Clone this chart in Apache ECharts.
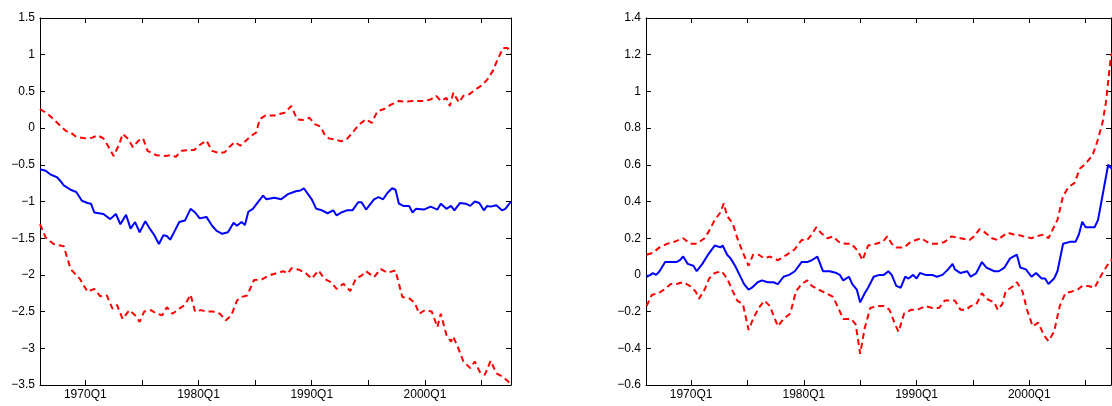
<!DOCTYPE html>
<html><head><meta charset="utf-8">
<script src="https://cdn.jsdelivr.net/npm/echarts@6/dist/echarts.min.js"></script>
<style>html,body{margin:0;padding:0;background:#fff}#c{width:1112px;height:406px}</style>
</head><body><div id="c"></div>
<script>
const tickYears = [1970,1975,1980,1985,1990,1995,2000,2005];
const labelYears = [1970,1980,1990,2000];
const xMin = 1966, xMaxL = 2007.6, xMaxR = 2007.25;

const L_mid_x = [1966.0,1966.5,1966.9,1967.5,1967.8,1968.1,1968.7,1969.2,1969.7,1970.2,1970.5,1970.8,1971.6,1972.2,1972.7,1973.1,1973.6,1974.0,1974.4,1974.8,1975.3,1975.7,1976.1,1976.5,1976.9,1977.2,1977.5,1977.9,1978.3,1978.8,1979.3,1979.7,1980.1,1980.7,1981.2,1981.6,1982.1,1982.6,1983.1,1983.4,1983.8,1984.1,1984.4,1984.8,1985.2,1985.7,1986.0,1986.7,1987.3,1987.9,1988.6,1989.0,1989.3,1990.0,1990.4,1990.9,1991.4,1991.9,1992.2,1992.6,1993.1,1993.6,1994.1,1994.4,1994.8,1995.5,1995.9,1996.3,1996.7,1997.1,1997.4,1997.7,1998.1,1998.6,1998.9,1999.2,1999.9,2000.5,2001.1,2001.4,2001.9,2002.3,2002.6,2003.1,2003.6,2004.0,2004.4,2004.8,2005.2,2005.5,2005.8,2006.3,2006.8,2007.1,2007.6];
const L_mid_y = [-0.56,-0.58,-0.63,-0.67,-0.72,-0.78,-0.84,-0.87,-0.99,-1.02,-1.03,-1.15,-1.17,-1.24,-1.17,-1.31,-1.18,-1.37,-1.28,-1.42,-1.27,-1.37,-1.46,-1.58,-1.46,-1.47,-1.52,-1.40,-1.28,-1.26,-1.10,-1.15,-1.23,-1.21,-1.33,-1.40,-1.44,-1.42,-1.29,-1.33,-1.28,-1.32,-1.14,-1.10,-1.02,-0.92,-0.97,-0.95,-0.97,-0.90,-0.86,-0.85,-0.82,-0.97,-1.10,-1.12,-1.16,-1.12,-1.19,-1.15,-1.12,-1.12,-1.01,-1.01,-1.11,-0.97,-0.94,-0.97,-0.88,-0.82,-0.84,-1.03,-1.06,-1.06,-1.15,-1.10,-1.11,-1.07,-1.11,-1.03,-1.10,-1.06,-1.12,-1.02,-1.03,-1.06,-1.00,-1.02,-1.12,-1.06,-1.07,-1.05,-1.12,-1.10,-1.00];

const L_up_x = [1966.0,1966.7,1967.2,1967.8,1968.3,1968.7,1969.2,1970.0,1970.6,1971.1,1971.6,1972.0,1972.5,1973.0,1973.3,1973.8,1974.2,1974.7,1975.1,1975.5,1976.3,1977.1,1977.5,1978.0,1978.5,1979.1,1979.6,1980.2,1980.7,1981.2,1981.8,1982.3,1982.7,1983.2,1983.7,1984.2,1984.6,1985.1,1985.4,1985.9,1986.7,1987.1,1987.6,1988.2,1988.7,1989.2,1989.8,1990.3,1990.8,1991.1,1991.5,1992.2,1992.6,1993.1,1993.6,1994.2,1994.8,1995.3,1995.8,1996.4,1997.0,1997.7,1998.3,1998.9,1999.5,2000.0,2000.5,2001.0,2001.4,2001.9,2002.2,2002.5,2003.0,2003.4,2003.9,2004.5,2005.0,2005.5,2006.0,2006.4,2006.9,2007.3,2007.6];
const L_up_y = [0.26,0.19,0.12,0.03,-0.04,-0.06,-0.12,-0.14,-0.13,-0.10,-0.14,-0.24,-0.38,-0.22,-0.08,-0.15,-0.26,-0.17,-0.14,-0.31,-0.37,-0.38,-0.37,-0.39,-0.31,-0.30,-0.30,-0.22,-0.17,-0.31,-0.34,-0.33,-0.26,-0.19,-0.24,-0.17,-0.11,-0.06,0.12,0.17,0.17,0.19,0.21,0.30,0.12,0.11,0.14,0.05,0.02,-0.08,-0.14,-0.16,-0.18,-0.15,-0.06,0.05,0.12,0.07,0.23,0.26,0.32,0.37,0.36,0.37,0.37,0.37,0.39,0.44,0.37,0.41,0.30,0.48,0.35,0.44,0.46,0.53,0.58,0.66,0.78,0.93,1.09,1.09,1.02];

const L_lo_x = [1966.0,1966.5,1967.2,1968.1,1968.7,1969.5,1970.2,1970.8,1971.3,1971.9,1972.4,1972.8,1973.3,1973.9,1974.4,1974.8,1975.2,1975.8,1976.3,1976.8,1977.2,1977.7,1978.3,1978.8,1979.3,1979.7,1980.2,1980.7,1981.3,1981.9,1982.4,1982.9,1983.4,1983.8,1984.3,1984.9,1985.6,1986.2,1986.8,1987.5,1987.9,1988.2,1988.9,1989.5,1990.0,1990.6,1991.1,1991.7,1992.2,1992.8,1993.4,1993.9,1994.4,1994.8,1995.5,1996.1,1996.7,1997.4,1998.0,1998.6,1999.1,1999.5,2000.0,2000.6,2001.1,2001.4,2001.9,2002.3,2002.5,2003.0,2003.4,2004.0,2004.4,2004.9,2005.3,2005.8,2006.3,2006.9,2007.4,2007.6];
const L_lo_y = [-1.31,-1.49,-1.58,-1.61,-1.92,-2.05,-2.23,-2.19,-2.29,-2.28,-2.46,-2.41,-2.60,-2.48,-2.55,-2.64,-2.50,-2.48,-2.53,-2.55,-2.44,-2.53,-2.46,-2.41,-2.27,-2.50,-2.48,-2.50,-2.50,-2.53,-2.62,-2.55,-2.35,-2.30,-2.28,-2.07,-2.06,-2.01,-1.98,-1.95,-1.98,-1.91,-1.93,-1.98,-2.05,-1.94,-2.05,-2.10,-2.19,-2.12,-2.22,-2.05,-2.01,-1.95,-2.03,-1.92,-1.97,-1.94,-2.30,-2.32,-2.38,-2.53,-2.48,-2.50,-2.71,-2.53,-2.82,-2.91,-2.84,-3.02,-3.18,-3.27,-3.18,-3.34,-3.36,-3.17,-3.34,-3.39,-3.46,-3.48];

const R_mid_x = [1966.05,1966.4,1966.6,1966.9,1967.2,1967.7,1968.2,1968.7,1969.0,1969.3,1969.7,1970.2,1970.5,1971.0,1971.5,1972.1,1972.6,1972.8,1973.2,1973.5,1973.9,1974.3,1974.7,1975.1,1975.4,1975.9,1976.3,1976.8,1977.3,1977.7,1978.2,1978.7,1979.2,1979.8,1980.3,1980.7,1981.2,1981.7,1982.3,1982.9,1983.2,1983.5,1984.0,1984.3,1984.7,1985.0,1985.4,1985.7,1986.2,1986.7,1987.1,1987.5,1987.8,1988.2,1988.6,1989.0,1989.3,1989.7,1990.0,1990.3,1990.8,1991.4,1991.8,1992.3,1992.8,1993.2,1993.4,1993.9,1994.5,1994.8,1995.3,1995.8,1996.2,1996.9,1997.3,1997.8,1998.3,1998.9,1999.2,1999.7,2000.2,2000.6,2001.1,2001.4,2001.7,2002.2,2002.5,2003.0,2003.6,2004.1,2004.4,2004.7,2005.0,2005.8,2006.1,2006.4,2007.0,2007.3,2007.6];
const R_mid_y = [-0.01,0.00,0.01,0.00,0.02,0.07,0.07,0.07,0.08,0.10,0.06,0.05,0.02,0.06,0.11,0.16,0.15,0.16,0.11,0.09,0.05,0.00,-0.05,-0.08,-0.07,-0.04,-0.03,-0.04,-0.04,-0.05,-0.01,0.00,0.02,0.07,0.07,0.08,0.10,0.02,0.02,0.01,0.00,-0.03,-0.01,-0.05,-0.08,-0.15,-0.10,-0.07,-0.01,0.00,0.00,0.02,0.00,-0.06,-0.07,-0.01,-0.02,0.00,-0.02,0.01,0.00,0.00,-0.01,0.00,0.03,0.06,0.03,0.01,0.02,-0.01,0.01,0.07,0.04,0.02,0.02,0.04,0.09,0.11,0.04,0.03,-0.01,0.01,-0.02,-0.02,-0.05,-0.02,0.02,0.17,0.18,0.18,0.22,0.29,0.26,0.26,0.30,0.40,0.60,0.58,0.60];

const R_up_x = [1966.05,1966.6,1967.2,1967.9,1968.5,1969.3,1969.9,1970.5,1971.2,1971.6,1972.1,1972.6,1972.9,1973.2,1973.7,1974.1,1974.6,1975.1,1975.5,1976.0,1976.5,1977.0,1977.7,1978.5,1979.2,1979.8,1980.3,1980.7,1981.1,1981.5,1982.1,1982.6,1983.1,1983.7,1984.2,1984.8,1985.2,1985.7,1986.4,1987.0,1987.4,1987.8,1988.2,1988.9,1989.5,1990.4,1991.2,1992.0,1992.5,1993.1,1993.9,1994.7,1995.1,1995.6,1996.1,1996.7,1997.2,1997.6,1998.1,1998.6,1998.9,1999.5,2000.2,2000.6,2001.3,2001.7,2002.1,2002.5,2003.0,2003.5,2004.0,2004.5,2004.9,2005.6,2006.0,2006.5,2006.8,2007.2,2007.3,2007.6];
const R_up_y = [0.11,0.12,0.15,0.17,0.18,0.20,0.17,0.17,0.20,0.24,0.30,0.34,0.39,0.32,0.28,0.20,0.12,0.05,0.11,0.11,0.09,0.10,0.08,0.11,0.14,0.19,0.19,0.22,0.26,0.23,0.20,0.21,0.18,0.17,0.17,0.13,0.08,0.16,0.17,0.18,0.21,0.17,0.15,0.15,0.18,0.20,0.17,0.17,0.18,0.21,0.20,0.19,0.21,0.25,0.23,0.20,0.19,0.21,0.23,0.22,0.22,0.21,0.20,0.21,0.22,0.20,0.25,0.30,0.43,0.48,0.50,0.58,0.60,0.65,0.72,0.83,0.94,1.17,1.20,1.22];

const R_lo_x = [1966.05,1966.5,1967.1,1967.6,1968.2,1968.7,1969.3,1969.9,1970.4,1970.7,1971.2,1971.6,1972.1,1972.7,1973.2,1973.7,1974.1,1974.6,1975.1,1975.5,1976.0,1976.5,1977.0,1977.3,1977.7,1978.2,1978.8,1979.3,1979.8,1980.3,1980.7,1981.3,1982.0,1982.6,1983.2,1983.5,1984.2,1984.6,1985.0,1985.4,1985.9,1986.5,1987.1,1987.6,1988.1,1988.4,1988.9,1989.5,1990.1,1990.8,1991.4,1992.0,1992.5,1992.9,1993.4,1993.9,1994.4,1994.8,1995.3,1995.8,1996.2,1996.9,1997.2,1997.6,1997.9,1998.6,1998.9,1999.4,1999.8,2000.3,2000.8,2001.3,2001.7,2002.2,2002.7,2003.2,2003.8,2004.3,2004.7,2005.2,2005.8,2006.4,2006.9,2007.3,2007.6];
const R_lo_y = [-0.17,-0.11,-0.10,-0.08,-0.05,-0.05,-0.04,-0.06,-0.09,-0.13,-0.08,-0.02,0.01,0.02,-0.02,-0.09,-0.14,-0.16,-0.30,-0.24,-0.18,-0.14,-0.17,-0.22,-0.28,-0.24,-0.21,-0.09,-0.05,-0.03,-0.06,-0.08,-0.10,-0.12,-0.20,-0.24,-0.24,-0.27,-0.43,-0.29,-0.18,-0.17,-0.17,-0.19,-0.27,-0.31,-0.21,-0.19,-0.19,-0.17,-0.18,-0.18,-0.14,-0.14,-0.14,-0.19,-0.19,-0.17,-0.16,-0.10,-0.13,-0.15,-0.19,-0.16,-0.09,-0.06,-0.04,-0.09,-0.19,-0.28,-0.26,-0.33,-0.36,-0.31,-0.17,-0.10,-0.09,-0.08,-0.06,-0.06,-0.07,0.00,0.05,0.08,0.09];

const zip = (xs, ys) => xs.map((x, i) => [x, ys[i]]);
const font = 'Liberation Sans, Arial, sans-serif';
const grids = [
  {left: 40, top: 18, width: 471, height: 367},
  {left: 646, top: 18, width: 465, height: 367}
];
function xAx(g, pos, max) {
  const main = pos === 'bottom';
  return {type: 'value', gridIndex: g, position: pos, min: xMin, max,
    axisLine: {show: true, onZero: false, lineStyle: {color: '#000', width: 1}},
    axisTick: {show: true, inside: true, length: 5, customValues: tickYears, lineStyle: {color: '#000'}},
    axisLabel: {show: main, customValues: labelYears, formatter: v => v + 'Q1', color: '#000', fontSize: 12, fontFamily: font, margin: 4},
    splitLine: {show: false}};
}
function yAx(g, pos, min, max, iv, dec) {
  const main = pos === 'left';
  return {type: 'value', gridIndex: g, position: pos, min, max, interval: iv,
    axisLine: {show: true, onZero: false, lineStyle: {color: '#000', width: 1}},
    axisTick: {show: true, inside: true, length: 5, lineStyle: {color: '#000'}},
    axisLabel: {show: main, color: '#000', fontSize: 12, fontFamily: font, margin: 5,
      formatter: v => { const s = (+v.toFixed(dec)).toString(); return s.replace('-', '\u2212'); }},
    splitLine: {show: false}};
}
function ser(xi, yi, data, color, dashed) {
  return {type: 'line', xAxisIndex: xi, yAxisIndex: yi, data, showSymbol: false, symbol: 'none', animation: false, clip: true,
    lineStyle: {color, width: 2, type: dashed ? [6, 4] : 'solid'}};
}
const chart = echarts.init(document.getElementById('c'));
chart.setOption({
  backgroundColor: '#fff', animation: false,
  grid: grids,
  xAxis: [xAx(0,'bottom',xMaxL), xAx(0,'top',xMaxL), xAx(1,'bottom',xMaxR), xAx(1,'top',xMaxR)],
  yAxis: [yAx(0,'left',-3.5,1.5,0.5,1), yAx(0,'right',-3.5,1.5,0.5,1), yAx(1,'left',-0.6,1.4,0.2,1), yAx(1,'right',-0.6,1.4,0.2,1)],
  series: [
    ser(0,0,zip(L_up_x,L_up_y),'#ff0000',true),
    ser(0,0,zip(L_lo_x,L_lo_y),'#ff0000',true),
    ser(0,0,zip(L_mid_x,L_mid_y),'#0000ff',false),
    ser(2,2,zip(R_up_x,R_up_y),'#ff0000',true),
    ser(2,2,zip(R_lo_x,R_lo_y),'#ff0000',true),
    ser(2,2,zip(R_mid_x,R_mid_y),'#0000ff',false)
  ]
});
</script></body></html>
